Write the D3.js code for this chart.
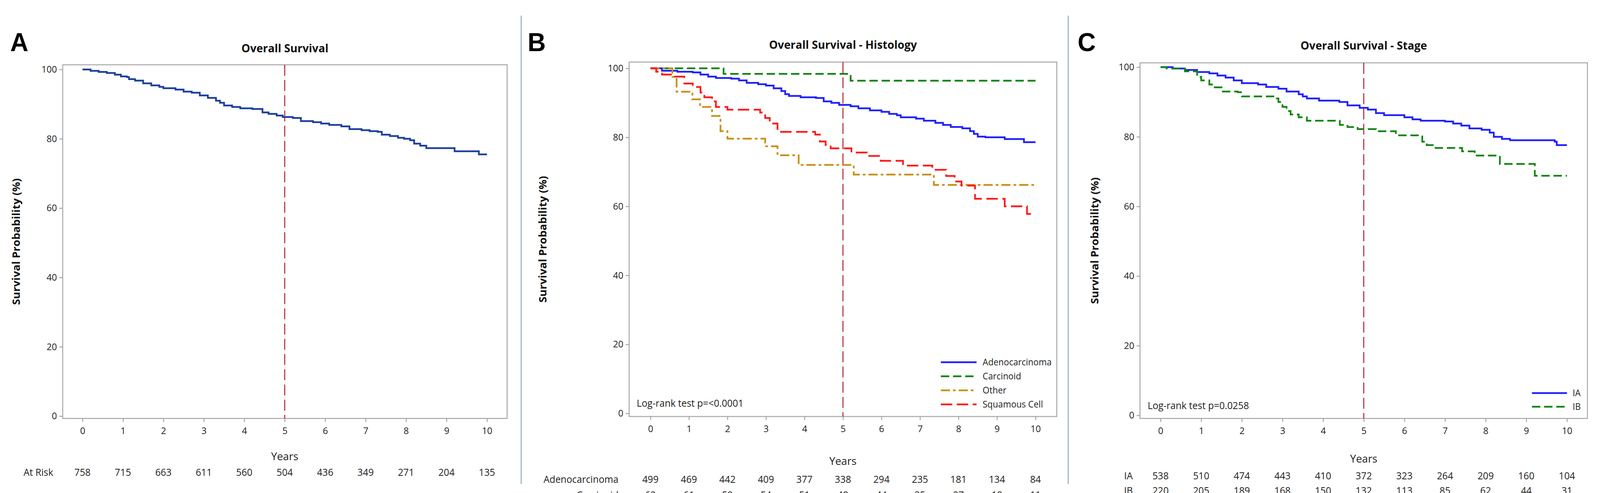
<!DOCTYPE html>
<html><head><meta charset="utf-8">
<script src="https://cdn.jsdelivr.net/npm/d3@7"></script>
<style>html,body{margin:0;padding:0;background:#fff;overflow:hidden;width:100%;height:100%}
svg{display:block;width:100vw;height:100vh}
text{font-family:"Open Sans",sans-serif;fill:#222}</style>
</head><body><svg id="vis" viewBox="0 0 4209 1263" preserveAspectRatio="none"></svg>
<script>
// tick values
const YEARS = [0,1,2,3,4,5,6,7,8,9,10];
const Y_TICKS = [0,20,40,60,80,100];

// panel A
const A_overall = [[0,100],[0.2,99.6],[0.4,99.3],[0.6,99],[0.8,98.5],[0.95,98],[1.1,97.8],[1.15,97.2],[1.3,96.8],[1.5,96],[1.7,95.4],[1.9,95],[2,94.6],[2.3,94.2],[2.5,93.6],[2.7,93.3],[2.9,92.5],[3.1,91.8],[3.3,91],[3.4,90.4],[3.5,89.6],[3.7,89.2],[3.9,88.8],[4.2,88.6],[4.45,87.6],[4.6,87.2],[4.8,86.7],[4.95,86.3],[5.2,86],[5.4,85.1],[5.7,84.8],[5.9,84.4],[6.1,84],[6.4,83.6],[6.6,82.8],[6.9,82.5],[7.1,82.2],[7.3,82],[7.4,81.2],[7.6,80.8],[7.8,80.3],[7.95,80],[8.1,79.6],[8.2,78.6],[8.35,78],[8.5,77.3],[9.2,76.4],[9.8,75.5],[10,75.5]];
const A_risk = [758,715,663,611,560,504,436,349,271,204,135];

// panel B
const B_adeno = [[0,100],[0.3,99.3],[0.7,99],[1.1,98.8],[1.3,98.2],[1.5,97.6],[1.7,97.2],[2.1,97],[2.3,96.5],[2.5,95.8],[2.8,95.4],[3,95],[3.2,94.2],[3.4,93.4],[3.5,92.5],[3.6,92],[3.9,91.6],[4.3,91.4],[4.5,90.4],[4.7,90],[4.9,89.4],[5.2,89],[5.4,88.4],[5.7,87.8],[6,87.4],[6.2,86.8],[6.4,86.4],[6.5,85.8],[6.9,85.4],[7.1,84.8],[7.4,84.2],[7.6,83.6],[7.8,83],[8.1,82.6],[8.3,81.8],[8.4,81],[8.5,80.2],[8.7,80],[9.2,79.5],[9.7,78.6],[10,78.6]];
const B_carcinoid = [[0,100],[1.9,98.4],[5.2,96.4],[10,96.4]];
const B_other = [[0,100],[0.57,97.5],[0.68,93.2],[1.09,91],[1.29,88.8],[1.6,86.2],[1.82,81.8],[2,79.6],[2.98,77.4],[3.3,74.8],[3.85,72],[5.28,69.2],[7.36,66.2],[10,66.2]];
const B_squamous = [[0,100],[0.15,99],[0.3,98.2],[0.6,97.6],[0.88,95.6],[1.1,94.6],[1.3,93],[1.4,91.6],[1.6,90.4],[1.7,88.8],[2,88],[2.85,87.2],[2.98,85.6],[3.1,84],[3.3,81.6],[4.28,80.8],[4.4,78.8],[4.55,77.8],[4.68,76.8],[5.22,75.6],[5.62,74.6],[5.98,73.2],[6.56,71.8],[7.32,70.6],[7.68,68.8],[7.9,67.2],[8.08,66],[8.43,62.2],[9.2,60],[9.78,57.8],[10,57.8]];
const B_names = ["Adenocarcinoma","Carcinoid","Other","Squamous Cell"];
const B_risk = [
  [499,469,442,409,377,338,294,235,181,134,84],
  [62,61,59,54,51,48,44,35,27,18,11],
  [44,41,35,31,28,26,23,23,21,21,17],
  [153,144,127,117,104,92,75,56,42,31,23]];

// panel C
const C_IA = [[0,100],[0.3,99.6],[0.6,99.2],[0.9,98.6],[1.2,98.2],[1.4,97.6],[1.6,97],[1.8,96.2],[2,95.4],[2.4,95],[2.6,94.3],[2.9,93.8],[3.1,93],[3.4,92.2],[3.5,91.6],[3.6,91],[3.9,90.4],[4.4,90],[4.6,89],[4.9,88.3],[5.1,87.8],[5.3,86.8],[5.5,86.2],[6,85.6],[6.2,85],[6.4,84.6],[7,84.4],[7.2,83.8],[7.4,83.2],[7.6,82.4],[7.9,82],[8.1,81.2],[8.2,80],[8.4,79.4],[8.6,79],[9.7,78.6],[9.75,77.6],[10,77.6]];
const C_IB = [[0,100],[0.15,99.6],[0.6,98.8],[0.9,97.2],[1,96.2],[1.2,95],[1.3,94.2],[1.5,93],[1.9,92.8],[2,91.6],[2.8,91],[2.9,90],[3,88.6],[3.1,87.4],[3.2,86.4],[3.4,85.6],[3.6,84.6],[4.41,83.4],[4.6,82.8],[4.85,82.2],[5.3,81.6],[5.79,80.4],[6.44,78.6],[6.55,77.6],[6.74,76.8],[7.42,75.8],[7.73,74.6],[8.35,72.2],[9.21,68.8],[10,68.8]];
const C_names = ["IA","IB"];
const C_risk = [
  [538,510,474,443,410,372,323,264,209,160,104],
  [220,205,189,168,150,132,113,85,62,44,31]];

const svg = d3.select("#vis");

// divider lines between panels
[1371, 2810].forEach(x => svg.append("line").attr("x1",x).attr("x2",x).attr("y1",40).attr("y2",1240)
  .attr("stroke","#6a9ab8").attr("stroke-width",2));

function panel(p) {
  const g = svg.append("g");
  const x = d3.scaleLinear().domain([0,10]).range([p.x0, p.x1]);
  const y = d3.scaleLinear().domain([0,100]).range([p.y0, p.y100]);

  g.append("text").attr("x",p.letterX).attr("y",131).attr("font-size",66).attr("font-weight","bold")
    .style("font-family","'Liberation Sans',Arial,sans-serif").style("fill","#000").text(p.letter);
  g.append("text").attr("x",(p.fl+p.fr)/2).attr("y",p.titleY).attr("text-anchor","middle")
    .attr("font-size",29).attr("font-weight","bold").style("fill","#111").text(p.title);

  g.append("rect").attr("x",p.fl).attr("y",p.ft).attr("width",p.fr-p.fl).attr("height",p.fb-p.ft)
    .attr("fill","none").attr("stroke","#a6a6a6").attr("stroke-width",2.5);

  const yAx = g.append("g").attr("transform",`translate(${p.fl},0)`)
    .call(d3.axisLeft(y).tickValues(Y_TICKS).tickSize(9).tickPadding(6));
  const xAx = g.append("g").attr("transform",`translate(0,${p.fb})`)
    .call(d3.axisBottom(x).tickValues(YEARS).tickSize(9).tickPadding(14));
  [yAx,xAx].forEach(a => {
    a.select(".domain").remove();
    a.selectAll("line").attr("stroke","#a6a6a6").attr("stroke-width",2.5);
    a.selectAll("text").attr("font-size",24).style("fill","#222").style("font-family","'Open Sans',sans-serif");
  });

  g.append("text").attr("transform",`translate(${p.ylabX},${(p.ft+p.fb)/2}) rotate(-90)`)
    .attr("text-anchor","middle").attr("font-size",28).attr("font-weight","bold").style("fill","#111")
    .text("Survival Probability (%)");
  g.append("text").attr("x",x(5)).attr("y",p.yearsY).attr("text-anchor","middle")
    .attr("font-size",28).text("Years");

  // 5-year reference line
  g.append("line").attr("x1",x(5)).attr("x2",x(5)).attr("y1",p.ft).attr("y2",p.fb)
    .attr("stroke","#b01c22").attr("stroke-width",2.5).attr("stroke-dasharray","28,11");

  const line = d3.line().x(d => x(d[0])).y(d => y(d[1])).curve(d3.curveStepAfter);
  p.series.forEach(s => g.append("path").datum(s.data).attr("d",line).attr("fill","none")
    .attr("stroke",s.color).attr("stroke-width",4.5).attr("stroke-dasharray",s.dash || null));

  if (p.legend) {
    p.series.forEach((s,i) => {
      const ly = p.legend.y + i*p.legend.dy;
      g.append("line").attr("x1",p.legend.x).attr("x2",p.legend.x+p.legend.w).attr("y1",ly).attr("y2",ly)
        .attr("stroke",s.color).attr("stroke-width",4.5).attr("stroke-dasharray",s.dash || null);
      g.append("text").attr("x",p.legend.tx).attr("y",ly+8).attr("font-size",23).text(s.name);
    });
  }
  if (p.pval) g.append("text").attr("x",p.pval.x).attr("y",p.pval.y).attr("font-size",25).text(p.pval.t);

  p.risk.forEach((row,i) => {
    const ry = p.riskY + i*p.riskDy;
    g.append("text").attr("x",p.riskLabX).attr("y",ry).attr("text-anchor","end")
      .attr("font-size",25).text(p.riskNames[i]);
    g.selectAll(null).data(row).enter().append("text")
      .attr("x",(d,j) => x(YEARS[j])).attr("y",ry).attr("text-anchor","middle")
      .attr("font-size",25).text(d => d);
  });
}

const DASH_CARC = "22,10", DASH_OTHER = "24,8,7,8", DASH_SQ = "30,12";

panel({letter:"A", letterX:27, title:"Overall Survival", titleY:134,
  fl:165, fr:1334, ft:166, fb:1072, x0:217, x1:1281, y0:1066, y100:178, ylabX:52, yearsY:1179,
  series:[{name:"All", data:A_overall, color:"#1d3f9c"}],
  risk:[A_risk], riskNames:["At Risk"], riskY:1219, riskDy:0, riskLabX:140});

panel({letter:"B", letterX:1388, title:"Overall Survival - Histology", titleY:125,
  fl:1655, fr:2780, ft:159, fb:1067, x0:1711, x1:2724, y0:1059, y100:175, ylabX:1438, yearsY:1191,
  series:[{name:B_names[0], data:B_adeno, color:"#1f1fff"},
          {name:B_names[1], data:B_carcinoid, color:"#138513", dash:DASH_CARC},
          {name:B_names[2], data:B_other, color:"#c8901a", dash:DASH_OTHER},
          {name:B_names[3], data:B_squamous, color:"#ff1a1a", dash:DASH_SQ}],
  legend:{x:2475, w:94, tx:2585, y:928, dy:36},
  pval:{x:1675, y:1042, t:"Log-rank test p=<0.0001"},
  risk:B_risk, riskNames:B_names, riskY:1237, riskDy:40, riskLabX:1627});

panel({letter:"C", letterX:2835, title:"Overall Survival - Stage", titleY:127,
  fl:2999, fr:4176, ft:161, fb:1072, x0:3053, x1:4122, y0:1064, y100:172, ylabX:2890, yearsY:1185,
  series:[{name:C_names[0], data:C_IA, color:"#1f1fff"},
          {name:C_names[1], data:C_IB, color:"#138513", dash:DASH_CARC}],
  legend:{x:4030, w:92, tx:4137, y:1007, dy:35},
  pval:{x:3019, y:1048, t:"Log-rank test p=0.0258"},
  risk:C_risk, riskNames:C_names, riskY:1228, riskDy:38, riskLabX:2980});
</script></body></html>
